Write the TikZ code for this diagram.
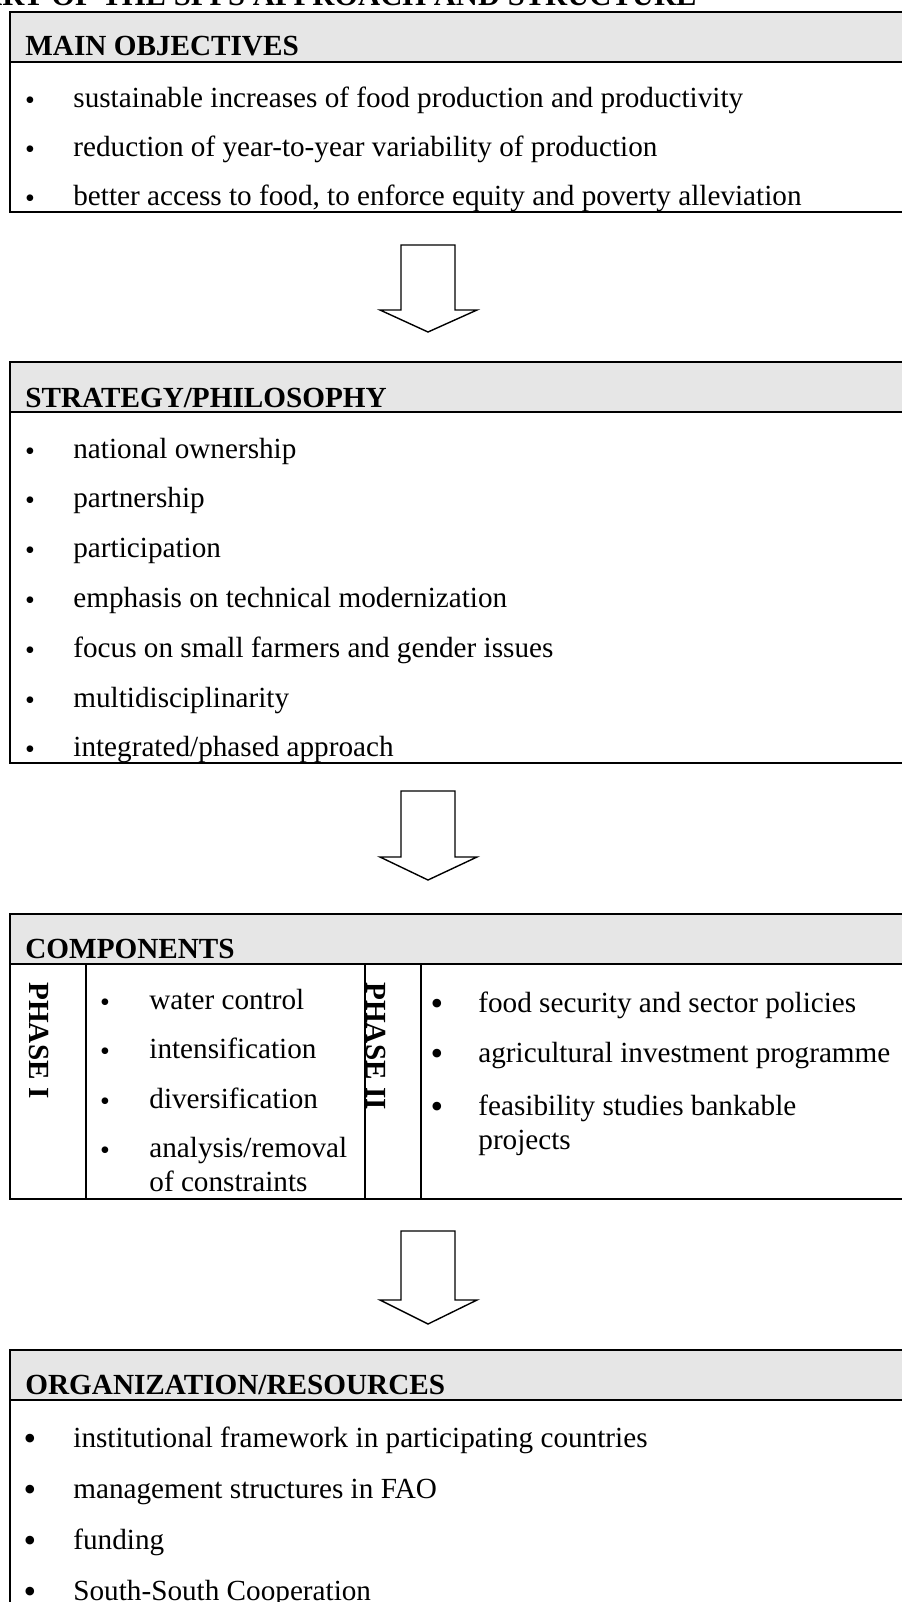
\documentclass[tikz,border=0pt]{standalone}
\usepackage{fontspec}
\setmainfont{Liberation Serif}
\usetikzlibrary{positioning}
\definecolor{HeadGray}{HTML}{E6E6E6}
\begin{document}
\begin{tikzpicture}[x=0.5pt, y=-0.5pt]
		\tikzstyle{Frame} = [draw=black, line width=1pt]
		\tikzstyle{Head} = [Frame, fill=HeadGray]
		\tikzstyle{HeadText} = [anchor=base west, inner sep=0pt, font=\fontsize{14.6}{17}\selectfont\bfseries]
		\tikzstyle{Item} = [anchor=base west, inner sep=0pt, font=\fontsize{14.6}{17}\selectfont]
		\tikzstyle{Dot} = [anchor=base, inner sep=0pt, yshift=-1pt, font=\fontsize{14}{14}\selectfont]
		\tikzstyle{BigDot} = [anchor=base, inner sep=0pt, yshift=-1.5pt, font=\fontsize{18}{18}\selectfont]
		\tikzstyle{Phase} = [rotate=-90, anchor=west, inner sep=0pt, font=\fontsize{14.6}{17}\selectfont\bfseries]
		\tikzstyle{BlockArrow} = [draw=black, line width=0.7pt, fill=white, line join=miter]

		\useasboundingbox (0,0) rectangle (901,1602);

		\node (title) [anchor=base east, inner sep=0pt, font=\fontsize{15.3}{18}\selectfont\bfseries] at (697,5) {CHART OF THE SPFS APPROACH AND STRUCTURE};

		% main objectives
		\draw[Head] (10,12) rectangle (915,62);
		\draw[Frame] (10,62) rectangle (915,212);
		\node (objhead) [HeadText] at (25,55) {MAIN OBJECTIVES};
		\foreach \txt [count=\i] in {sustainable increases of food production and productivity, reduction of year-to-year variability of production, {better access to food, to enforce equity and poverty alleviation}} {
			\node (objdot\i) [Dot] at (30,{107+49*(\i-1)}) {•};
			\node (obj\i) [Item] at (73,{107+49*(\i-1)}) {\txt};
		}

		% strategy
		\draw[Head] (10,362) rectangle (915,412);
		\draw[Frame] (10,412) rectangle (915,763);
		\node (strhead) [HeadText] at (25,407) {STRATEGY/PHILOSOPHY};
		\foreach \txt [count=\i] in {national ownership, partnership, participation, emphasis on technical modernization, focus on small farmers and gender issues, multidisciplinarity, integrated/phased approach} {
			\node (strdot\i) [Dot] at (30,{458+49.8*(\i-1)}) {•};
			\node (str\i) [Item] at (73,{458+49.8*(\i-1)}) {\txt};
		}

		% components
		\draw[Head] (10,914) rectangle (915,964);
		\draw[Frame] (10,964) rectangle (915,1199);
		\draw[Frame] (86,964) -- (86,1199);
		\draw[Frame] (365,964) -- (365,1199);
		\draw[Frame] (421,964) -- (421,1199);
		\node (comphead) [HeadText] at (25,958) {COMPONENTS};
		\node (phaseone) [Phase] at (39,982) {PHASE I};
		\node (phasetwo) [Phase] at (376,982) {PHASE II};
		\foreach \y/\txt [count=\i] in {1009/water control, 1058/intensification, 1108/diversification, 1157/{analysis/removal}} {
			\node (onedot\i) [Dot] at (105,\y) {•};
			\node (one\i) [Item] at (149,\y) {\txt};
		}
		\node (onemore) [Item] at (149,1191) {of constraints};
		\foreach \y/\txt [count=\i] in {1012/food security and sector policies, 1062/agricultural investment programme, 1115/feasibility studies bankable} {
			\node (twodot\i) [BigDot] at (437,\y) {•};
			\node (two\i) [Item] at (478,\y) {\txt};
		}
		\node (twomore) [Item] at (478,1149) {projects};

		% organization
		\draw[Head] (10,1350) rectangle (915,1400);
		\draw[Frame] (10,1400) rectangle (915,1640);
		\node (orghead) [HeadText] at (25,1394) {ORGANIZATION/RESOURCES};
		\foreach \txt [count=\i] in {institutional framework in participating countries, management structures in FAO, funding, South-South Cooperation} {
			\node (orgdot\i) [BigDot] at (30,{1447+51*(\i-1)}) {•};
			\node (org\i) [Item] at (73,{1447+51*(\i-1)}) {\txt};
		}

		% block arrows
		\foreach \t/\s/\e in {245/310/332, 791/857/880, 1231/1300/1324}
			\draw[BlockArrow] (401,\t) -- (455,\t) -- (455,\s) -- (477,\s) -- (428,\e) -- (380,\s) -- (401,\s) -- cycle;

\end{tikzpicture}
\end{document}
